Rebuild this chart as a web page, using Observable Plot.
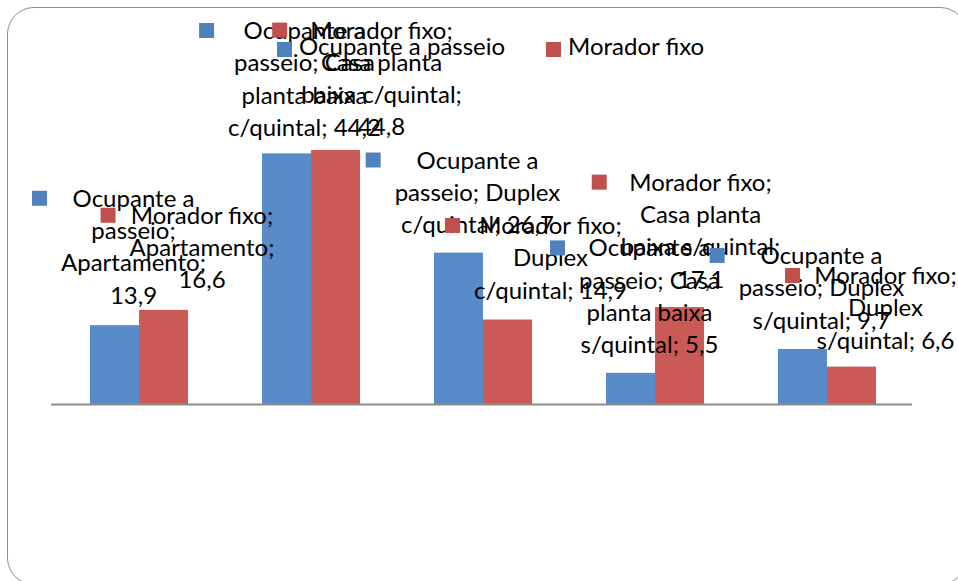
<!DOCTYPE html>
<html>
<head>
<meta charset="utf-8">
<script src="https://cdn.jsdelivr.net/npm/d3@7"></script>
<script src="https://cdn.jsdelivr.net/npm/@observablehq/plot@0.6"></script>
<style>
  html, body { margin: 0; padding: 0; background: #fff; }
  #chart { position: relative; width: 958px; height: 581px; overflow: hidden; font-family: Lato, sans-serif; }
  #frame { position: absolute; left: 7px; top: 7px; width: 960px; height: 578px;
           border: 1.5px solid #8c8c8c; border-radius: 27px; box-sizing: border-box; }
  #chart svg { position: absolute; left: 0; top: 0; overflow: visible; }
  .legend-item { position: absolute; top: 0; }
  .legend-key { position: absolute; top: 42px; left: 0; width: 15px; height: 15px; }
  .legend-text { position: absolute; top: 34px; left: 22px; font-size: 24px; line-height: 24px; white-space: nowrap; color: #000; }
</style>
</head>
<body>
<div id="chart"><div id="frame"></div></div>
<script>
// Housing types (categories) and the two groups of residents
const categories = [
  "Apartamento",
  "Casa planta baixa c/quintal",
  "Duplex c/quintal",
  "Casa planta baixa s/quintal",
  "Duplex s/quintal"
];
const seriesNames = ["Ocupante a passeio", "Morador fixo"];

// Percentages per housing type
const ocupanteValues = [13.9, 44.2, 26.7, 5.5, 9.7];
const moradorValues = [16.6, 44.8, 14.9, 17.1, 6.6];

// Colours: bars and legend keys
const barColors = ["#598BC8", "#CB5A56"];
const keyColors = ["#4F81BD", "#C0504D"];

// Label placement: [horizontal shift from the bar centre, last baseline relative to bar top]
const ocupanteLabelNudge = [[18.5, -22], [17.5, -18], [18.5, -20], [18.5, -20], [18.5, -21]];
const moradorLabelNudge = [[38, -22], [45.5, -15], [42.5, -21.5], [20.5, -20], [33.5, -18.5]];

const FONT_SIZE = 24;
const LINE_PX = 32.3;
const WRAP_WIDTH = 176;

// Text measuring for wrapping labels and placing their keys
const ctx = document.createElement("canvas").getContext("2d");
ctx.font = `${FONT_SIZE}px Lato`;
const measure = (s) => ctx.measureText(s).width;
function wrap(text, maxWidth) {
  const words = text.split(" ");
  const lines = [];
  let line = "";
  for (const w of words) {
    const t = line ? line + " " + w : w;
    if (line && measure(t) > maxWidth) { lines.push(line); line = w; }
    else line = t;
  }
  lines.push(line);
  return lines;
}

const fmt = (v) => v.toLocaleString("pt-BR");

const rows = [];
[ocupanteValues, moradorValues].forEach((values, s) => {
  const nudges = s === 0 ? ocupanteLabelNudge : moradorLabelNudge;
  values.forEach((value, i) => {
    const lines = wrap(`${seriesNames[s]}; ${categories[i]}; ${fmt(value)}`, WRAP_WIDTH);
    rows.push({
      series: seriesNames[s],
      s,
      category: categories[i],
      value,
      label: lines.join("\n"),
      nLines: lines.length,
      blockWidth: Math.max(...lines.map(measure)),
      nudge: nudges[i]
    });
  });
});

const xOptions = {
  type: "band",
  domain: categories,
  range: [53, 913],
  paddingInner: 0.43,
  paddingOuter: 0.215,
  axis: null
};
const bandwidth = Plot.scale({x: xOptions}).bandwidth;
const half = bandwidth / 2;
const barShift = (s) => (s === 0 ? -bandwidth / 4 : bandwidth / 4);

const marks = [];

// Bars: the left half of each band for the first series, the right half for the second
marks.push(
  Plot.barY(rows.filter((d) => d.s === 0), {x: "category", y: "value", fill: barColors[0], insetRight: half, insetLeft: 0}),
  Plot.barY(rows.filter((d) => d.s === 1), {x: "category", y: "value", fill: barColors[1], insetLeft: half, insetRight: 0}),
  Plot.ruleY([0], {stroke: "#8c8c8c", strokeWidth: 2})
);

// Data labels
for (const d of rows) {
  marks.push(Plot.text([d], {
    x: "category",
    y: "value",
    text: "label",
    dx: barShift(d.s) + d.nudge[0],
    dy: d.nudge[1],
    textAnchor: "middle",
    lineAnchor: "bottom",
    lineHeight: LINE_PX / FONT_SIZE,
    fontSize: FONT_SIZE,
    fill: "#000"
  }));
}

// Legend keys beside each label's first line
for (const d of rows) {
  marks.push(Plot.dot([d], {
    x: "category",
    y: "value",
    symbol: "square",
    r: 15 / Math.sqrt(Math.PI),
    fill: keyColors[d.s],
    stroke: "none",
    dx: barShift(d.s) + d.nudge[0] - d.blockWidth / 2 - 14 - 7.5,
    dy: d.nudge[1] - (d.nLines - 1) * LINE_PX - 8.5
  }));
}

const chart = Plot.plot({
  width: 958,
  height: 581,
  marginLeft: 51,
  marginRight: 46,
  marginTop: 0,
  marginBottom: 0,
  style: {background: "transparent", fontFamily: "Lato, sans-serif", fontSize: "24px", overflow: "visible"},
  x: xOptions,
  y: {domain: [0, 45], range: [404, 404 - 45 * 5.67], axis: null},
  marks
});

const root = document.getElementById("chart");
root.appendChild(chart);

// Series legend along the top
const legendLeft = [277, 546];
seriesNames.forEach((name, i) => {
  const item = document.createElement("div");
  item.className = "legend-item";
  item.style.left = legendLeft[i] + "px";
  const key = document.createElement("div");
  key.className = "legend-key";
  key.style.background = keyColors[i];
  const text = document.createElement("div");
  text.className = "legend-text";
  text.textContent = name;
  item.appendChild(key);
  item.appendChild(text);
  root.appendChild(item);
});
</script>
</body>
</html>
